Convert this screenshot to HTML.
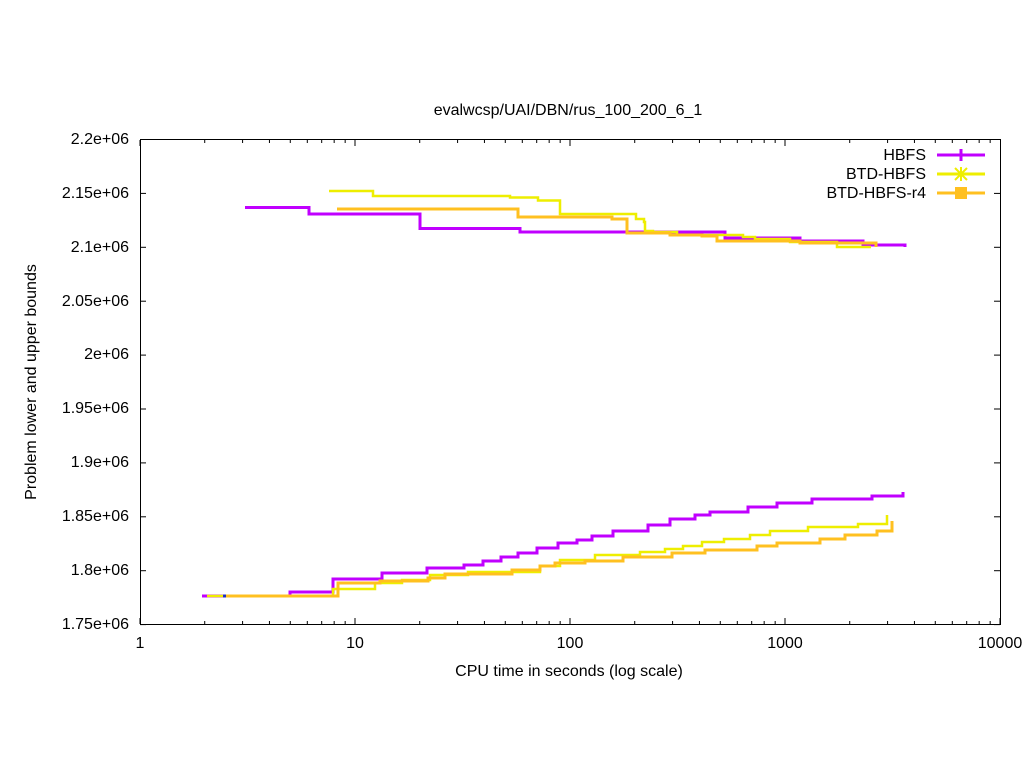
<!DOCTYPE html><html><head><style>body{margin:0;background:#fff}svg{display:block}text{font-family:"Liberation Sans",sans-serif;font-size:16px;fill:#000}</style></head><body>
<svg width="1024" height="768" viewBox="0 0 1024 768">
<rect x="140.5" y="139.5" width="860" height="485" fill="none" stroke="#000" stroke-width="1"/>
<g stroke="#000" stroke-width="1" id="ticks"></g>
<g text-anchor="end">
<text x="129" y="144">2.2e+06</text><text x="129" y="198">2.15e+06</text><text x="129" y="252">2.1e+06</text><text x="129" y="306">2.05e+06</text><text x="129" y="359">2e+06</text><text x="129" y="413">1.95e+06</text><text x="129" y="467">1.9e+06</text><text x="129" y="521">1.85e+06</text><text x="129" y="575">1.8e+06</text><text x="129" y="629">1.75e+06</text>
</g>
<g text-anchor="middle">
<text x="140" y="648">1</text><text x="355" y="648">10</text><text x="570" y="648">100</text><text x="785" y="648">1000</text><text x="1000" y="648">10000</text>
<text x="569" y="676">CPU time in seconds (log scale)</text>
<text x="568" y="115">evalwcsp/UAI/DBN/rus_100_200_6_1</text>
<text transform="translate(36,382) rotate(-90)">Problem lower and upper bounds</text>
</g>
<g fill="none" stroke-width="3">
<polyline stroke="#c000ff" points="245,207.5 309,207.5 309,214 420,214 420,228.5 520,228.5 520,232 725,232 725,238 800,238 800,241 863,241 863,245 905,245 905,247"/>
<polyline stroke="#eeee00" stroke-width="2.5" points="329,191 373,191 373,196 510,196 510,197.5 538,197.5 538,200.5 560,200.5 560,214 636,214 636,219 644,219 644,222 645,222 645,231 653,231 653,232 677,232 677,235 743,235 743,237 755,237 755,239 790,239 790,242 837,242 837,247 871,247"/>
<polyline stroke="#ffc020" points="337,209 518,209 518,217 612,217 612,219 627,219 627,233 670,233 670,235 702,235 702,236 717,236 717,241 800,241 800,243 876,243 876,247"/>
<polyline stroke="#c000ff" points="202,596 290,596 290,592 333,592 333,579 382,579 382,573 427,573 427,568 464,568 464,565 483,565 483,561 501,561 501,557 518,557 518,553 537,553 537,548 558,548 558,543 577,543 577,540 592,540 592,536 613,536 613,531 648,531 648,525 670,525 670,519 695,519 695,515 710,515 710,512 748,512 748,507 777,507 777,503 812,503 812,499 872,499 872,496 903,496 903,492"/>
<polyline stroke="#eeee00" stroke-width="2.5" points="207,596 333,596 333,589 375,589 375,583 402,583 402,580 430,580 430,575 468,575 468,572 540,572 540,566 560,566 560,560 595,560 595,555 640,555 640,552 665,552 665,549 683,549 683,546 702,546 702,542 724,542 724,539 750,539 750,535 770,535 770,531 808,531 808,527 858,527 858,524 887,524 887,515"/>
<polyline stroke="#ffc020" points="225,596 338,596 338,583 380,583 380,581 428,581 428,578 445,578 445,574 512,574 512,570 540,570 540,566 555,566 555,563 585,563 585,561 623,561 623,557 672,557 672,553 705,553 705,550 757,550 757,546 777,546 777,543 820,543 820,539 845,539 845,535 877,535 877,531 892,531 892,521"/>
<line x1="223" y1="596" x2="226" y2="596" stroke="#2030c0"/>
</g>
<g text-anchor="end"><text x="926" y="160">HBFS</text><text x="926" y="179">BTD-HBFS</text><text x="926" y="198">BTD-HBFS-r4</text></g>
<g stroke-width="3"><line x1="937" y1="155" x2="985" y2="155" stroke="#c000ff"/><line x1="961" y1="149" x2="961" y2="161" stroke="#c000ff"/>
<line x1="937" y1="174" x2="985" y2="174" stroke="#eeee00"/><path d="M955 168l12 12M967 168l-12 12M961 167v14" stroke="#eeee00" stroke-width="2"/>
<line x1="937" y1="193" x2="985" y2="193" stroke="#ffc020"/><rect x="955" y="187" width="12" height="12" fill="#ffc020" stroke="none"/></g>
</svg>
<script>
var g=document.getElementById('ticks'),s='';
for(var i=0;i<10;i++){var y=139.5+i*53.9;s+='<line x1="140" y1="'+y+'" x2="146" y2="'+y+'"/><line x1="1000" y1="'+y+'" x2="994" y2="'+y+'"/>';}
for(var d=0;d<4;d++)for(var k=1;k<10;k++){var x=140+215*(d+Math.log10(k));var L=k==1?6:3;s+='<line x1="'+x+'" y1="624" x2="'+x+'" y2="'+(624-L)+'"/><line x1="'+x+'" y1="140" x2="'+x+'" y2="'+(140+L)+'"/>';}
s+='<line x1="1000" y1="624" x2="1000" y2="618"/>';
g.innerHTML=s;
</script>
</body></html>
